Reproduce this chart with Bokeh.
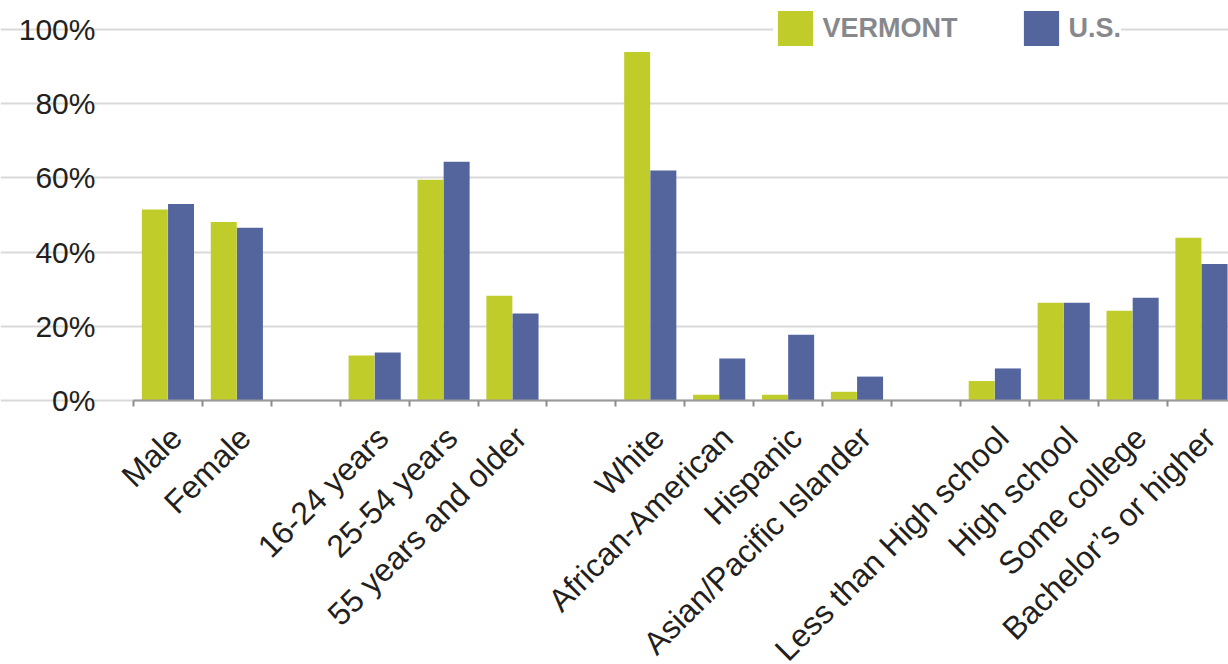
import math

from bokeh.plotting import figure
from bokeh.models import (ColumnDataSource, FixedTicker, PrintfTickFormatter,
                          Range1d, Legend, LegendItem)
from bokeh.transform import dodge
from bokeh.embed import file_html
from bokeh.resources import INLINE

# Labour-force profile, grouped by characteristic
gender = ["Male", "Female"]
age = ["16-24 years", "25-54 years", "55 years and older"]
race = ["White", "African-American", "Hispanic", "Asian/Pacific Islander"]
education = ["Less than High school", "High school", "Some college", "Bachelor’s or higher"]

# share of workers, percent (same order as the categories above)
vermont = [51.5, 48.1, 12.1, 59.5, 28.2, 94.0, 1.5, 1.5, 2.3, 5.2, 26.3, 24.2, 43.9]
us = [53.0, 46.6, 12.9, 64.4, 23.4, 62.0, 11.3, 17.7, 6.4, 8.6, 26.3, 27.7, 36.8]

y_ticks = [0, 20, 40, 60, 80, 100]
series_names = ["VERMONT", "U.S."]

GREEN = "#c0cc29"
BLUE = "#54659e"
FONT = "Liberation Sans"

# one slot per category, with an empty slot between groups
categories, positions = [], []
slot = 0
for group in (gender, age, race, education):
    for name in group:
        categories.append(name)
        positions.append(slot)
        slot += 1
    slot += 1
n_slots = slot - 1
first_edge = -0.5
last_edge = n_slots - 0.5

# the frame covers the whole canvas; both axes are pinned inside it
p = figure(width=1228, height=664,
           x_range=Range1d(-2.43, 15.392), y_range=Range1d(-71.3, 107.9),
           output_backend="svg", toolbar_location=None, min_border=0)
p.outline_line_color = None
p.background_fill_color = "white"
p.border_fill_color = "white"

source = ColumnDataSource(dict(x=positions, label=categories, vermont=vermont, us=us))

bar_w = 0.377
r_vt = p.vbar(x=dodge("x", -0.19, range=p.x_range), top="vermont", width=bar_w,
              source=source, fill_color=GREEN, line_color=None)
r_us = p.vbar(x=dodge("x", 0.19, range=p.x_range), top="us", width=bar_w,
              source=source, fill_color=BLUE, line_color=None)

# x axis drawn at y = 0; slot separators as minor ticks, and the slanted
# labels hung slightly right of each slot centre
label_shift = 0.12
label_ticks = [x + label_shift for x in positions]
xa = p.xaxis[0]
xa.fixed_location = 0
xa.bounds = (first_edge, last_edge)
xa.ticker = FixedTicker(ticks=label_ticks,
                        minor_ticks=[k - 0.5 for k in range(n_slots + 1)])
xa.major_label_overrides = {t: name for t, name in zip(label_ticks, categories)}
xa.major_label_orientation = math.pi / 4
xa.major_label_text_font = FONT
xa.major_label_text_font_size = "32px"
xa.major_label_text_color = "#231f20"
xa.major_label_standoff = 26
xa.major_tick_out = 0
xa.major_tick_in = 0
xa.minor_tick_out = 6
xa.minor_tick_in = 0
xa.minor_tick_line_color = "#8c8c8c"
xa.minor_tick_line_width = 2
xa.axis_line_color = "#9a9a9a"
xa.axis_line_width = 2

# y axis pinned at the left edge of the first slot
ya = p.yaxis[0]
ya.fixed_location = first_edge
ya.ticker = FixedTicker(ticks=y_ticks)
ya.formatter = PrintfTickFormatter(format="%d%%")
ya.major_label_text_font = FONT
ya.major_label_text_font_size = "30px"
ya.major_label_text_color = "#231f20"
ya.major_label_standoff = 38
ya.major_tick_out = 0
ya.major_tick_in = 0
ya.minor_tick_out = 0
ya.minor_tick_in = 0
ya.axis_line_color = None

p.xgrid.visible = False
p.ygrid.ticker = FixedTicker(ticks=y_ticks)
p.ygrid.bounds = (first_edge, last_edge + 1)
p.ygrid.grid_line_color = "#d9d9d9"
p.ygrid.grid_line_width = 2

legend = Legend(items=[LegendItem(label=series_names[0], renderers=[r_vt]),
                       LegendItem(label=series_names[1], renderers=[r_us])],
                orientation="horizontal", location=(772.6, 614),
                glyph_width=44, glyph_height=44, label_standoff=6,
                spacing=61, padding=6, margin=0,
                label_text_font=FONT, label_text_font_style="bold",
                label_text_font_size="27px", label_text_color="#87888b",
                background_fill_color="white", background_fill_alpha=1.0,
                border_line_color=None)
p.add_layout(legend)

open("out.html", "w").write(file_html(p, INLINE))
